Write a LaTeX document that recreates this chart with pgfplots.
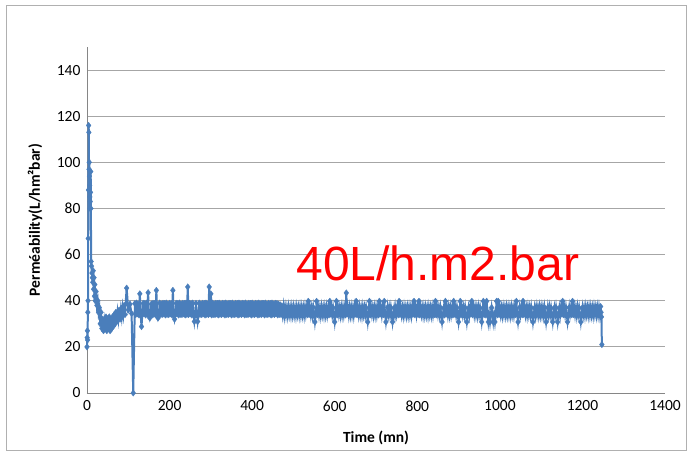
\documentclass[border=0pt]{standalone}
\usepackage{fontspec}
\setmainfont{Carlito}
\newfontfamily\arialf{Liberation Sans}
\usepackage{pgfplots}
\pgfplotsset{compat=1.18}
\definecolor{serie}{HTML}{4A7EBB}
\definecolor{gridc}{HTML}{A6A6A6}
\definecolor{axisc}{HTML}{868686}
\definecolor{framec}{HTML}{B0B0B0}
\begin{document}
\begin{tikzpicture}
\begin{axis}[
  width=578pt, height=346pt, scale only axis,
  xmin=0, xmax=1400, ymin=0, ymax=150,
  xtick={0,200,...,1400}, ytick={0,20,...,140},
  axis x line*=bottom, axis y line*=left,
  axis line style={axisc, line width=0.8pt},
  ymajorgrids, grid style={gridc, line width=0.8pt},
  tick style={draw=none},
  /pgf/number format/assume math mode=true,
  /pgf/number format/1000 sep={},
  ticklabel style={font=\fontsize{15.5}{18}\selectfont},
  yticklabel style={xshift=-3pt},
  xticklabel style={yshift=-4pt},
  xlabel={Time (mn)},
  ylabel={Perméability(L/hm²bar)},
  every axis x label/.style={at={(axis description cs:0.5,-0.13)}, anchor=center, font=\fontsize{15.5}{18}\selectfont\bfseries},
  every axis y label/.style={at={(axis description cs:-0.09,0.5)}, rotate=90, anchor=center, font=\fontsize{15.5}{18}\selectfont\bfseries},
  clip=false,
]
\path (rel axis cs:-0.1505,-0.1763) rectangle (rel axis cs:1.038,1.1358);
\draw[framec, line width=0.9pt] (rel axis cs:-0.1393,-0.1662) rectangle (rel axis cs:1.0363,1.1214);
\addplot[serie, line width=2pt, mark=diamond*, mark size=3.2pt, mark options={fill=serie, draw=serie, line width=0.3pt}] coordinates {
(0,20) (0.5,24) (1,27) (1.5,23) (2,35) (2.5,40) (3,67) (3.5,88) (4,116) (4.5,113)
(5,97) (5.5,100) (6,94) (6.5,90) (7,85) (7.5,80) (8,83) (8.5,87) (9,96) (9.5,80)
(10,57) (11,55) (12,52) (13,50) (14,48) (15,53) (16,45) (17,50) (18,42) (19,47)
(20,40) (22,44) (24,38) (26,40) (28,35) (30,37) (32,30) (34,35) (36,28) (38,32)
(40,27) (42,31) (44,28) (46,33) (48,27) (50,32) (52,28) (54,33) (56,27) (58,32)
(60,28) (62,33) (64,29) (66,34) (68,30) (70,35) (72,31) (74,35) (76,32) (78,36)
(80,32) (82,36) (84,33) (86,37) (88,34) (90,38) (92,34) (96,45.5) (100,36) (104,38.5)
(108,34.5) (112,0)
(116,38.8) (118,34) (120,39) (122,34.3) (124,38.6) (126,33.8) (128,43) (130,34.1) (132,28.8) (134,34)
(136,38.9) (138,34.3) (140,38.8) (142,33.8) (144,39) (146,34.1) (148,43.5) (150,34) (152,32.5) (154,34.3)
(156,38.6) (158,33.8) (160,38.9) (162,34.1) (164,38.8) (166,34) (168,44.5) (170,34.3) (172,32.5) (174,33.8)
(176,39) (178,34.1) (180,38.6) (182,34) (184,38.9) (186,34.3) (188,38.8) (190,33.8) (192,39) (194,34.1)
(196,38.6) (198,34) (200,38.9) (202,34.3) (204,38.8) (206,33.8) (208,44.5) (210,34.1) (212,32) (214,34)
(216,38.9) (218,34.3) (220,38.8) (222,33.8) (224,39) (226,34.1) (228,38.6) (230,34) (232,38.9) (234,34.3)
(236,38.8) (238,33.8) (240,39) (242,34.1) (244,46) (246,34) (248,38.9) (250,34.3) (252,38.8) (254,33.8)
(256,39) (258,34.1) (260,31) (262,34) (264,38.9) (266,34.3) (268,31) (270,33.8) (272,39) (274,34.1)
(276,38.6) (278,34) (280,38.9) (282,34.3) (284,38.8) (286,33.8) (288,39) (290,34.1) (292,38.6) (294,34)
(296,46) (298,34.3) (300,43) (302,33.8) (304,39) (306,34.1) (308,38.6) (310,34) (312,38.9) (314,34.3)
(316,38.8) (318,33.8) (320,39) (322,34.1) (324,38.6) (326,34) (328,38.9) (330,34.3) (332,38.8) (334,33.8)
(336,39) (338,34.1) (340,38.6) (342,34) (344,38.9) (346,34.3) (348,38.8) (350,33.8) (352,39) (354,34.1)
(356,38.6) (358,34) (360,38.9) (362,34.3) (364,38.8) (366,33.8) (368,39) (370,34.1) (372,38.6) (374,34)
(376,38.9) (378,34.3) (380,38.8) (382,33.8) (384,39) (386,34.1) (388,38.6) (390,34) (392,38.9) (394,34.3)
(396,38.8) (398,33.8) (400,39) (402,34.1) (404,38.6) (406,34) (408,38.9) (410,34.3) (412,38.8) (414,33.8)
(416,39) (418,34.1) (420,38.6) (422,34) (424,38.9) (426,34.3) (428,38.8) (430,33.8) (432,39) (434,34.1)
(436,38.6) (438,34) (440,38.9) (442,34.3) (444,38.8) (446,33.8) (448,39) (450,34.1) (452,38.6) (454,34)
(456,38.9) (458,34.3) (460,38.8) (462,33.8) (464,38.5) (466,34.1) (468,38.2) (470,34) (472,37.8) (474,34.3)
(476,37.5) (478,33.8)
(480,37) (482,34) (484,36.8) (486,33.8) (488,37.1) (490,34.2) (492,36.9) (494,33.9) (496,37) (498,34)
(500,37) (502,34) (504,36.8) (506,33.8) (508,37.1) (510,34.2) (512,36.9) (514,33.9) (516,37) (518,34)
(520,37) (522,34) (524,36.8) (526,33.8) (528,37.1) (530,34.2) (532,36.9) (534,33.9) (536,39.8) (538,34)
(540,37) (542,34) (544,36.8) (546,33.8) (548,37.1) (550,34.2) (552,30.8) (554,33.9) (556,39.8) (558,34)
(560,37) (562,34) (564,36.8) (566,33.8) (568,37.1) (570,34.2) (572,36.9) (574,33.9) (576,37) (578,34)
(580,37) (582,34) (584,36.8) (586,33.8) (588,39.8) (590,34.2) (592,36.9) (594,33.9) (596,37) (598,34)
(600,30.8) (602,34) (604,39.8) (606,33.8) (608,37.1) (610,34.2) (612,36.9) (614,33.9) (616,37) (618,34)
(620,37) (622,34) (624,36.8) (626,33.8) (628,43.4) (630,34.2) (632,36.9) (634,33.9) (636,37) (638,34)
(640,37) (642,34) (644,36.8) (646,33.8) (648,37.1) (650,34.2) (652,39.8) (654,33.9) (656,37) (658,34)
(660,37) (662,34) (664,36.8) (666,33.8) (668,37.1) (670,34.2) (672,36.9) (674,33.9) (676,37) (678,34)
(680,30.8) (682,34) (684,39.8) (686,33.8) (688,37.1) (690,34.2) (692,36.9) (694,33.9) (696,37) (698,34)
(700,37) (702,34) (704,36.8) (706,33.8) (708,39.8) (710,34.2) (712,36.9) (714,33.9) (716,37) (718,34)
(720,39.8) (722,34) (724,30.8) (726,33.8) (728,37.1) (730,34.2) (732,36.9) (734,33.9) (736,37) (738,34)
(740,30.8) (742,34) (744,36.8) (746,33.8) (748,37.1) (750,34.2) (752,36.9) (754,33.9) (756,39.8) (758,34)
(760,37) (762,34) (764,36.8) (766,33.8) (768,37.1) (770,34.2) (772,36.9) (774,33.9) (776,37) (778,34)
(780,37) (782,34) (784,36.8) (786,33.8) (788,37.1) (790,34.2) (792,39.8) (794,33.9) (796,37) (798,34)
(800,37) (802,34) (804,39.8) (806,33.8) (808,37.1) (810,34.2) (812,36.9) (814,33.9) (816,37) (818,34)
(820,37) (822,34) (824,36.8) (826,33.8) (828,37.1) (830,34.2) (832,36.9) (834,33.9) (836,37) (838,34)
(840,37) (842,34) (844,39.8) (846,33.8) (848,37.1) (850,34.2) (852,36.9) (854,33.9) (856,37) (858,34)
(860,30.8) (862,34) (864,36.8) (866,33.8) (868,39.8) (870,34.2) (872,36.9) (874,33.9) (876,37) (878,34)
(880,37) (882,34) (884,36.8) (886,33.8) (888,39.8) (890,34.2) (892,36.9) (894,33.9) (896,37) (898,34)
(900,30.8) (902,34) (904,39.8) (906,33.8) (908,37.1) (910,34.2) (912,36.9) (914,33.9) (916,37) (918,34)
(920,30.8) (922,34) (924,36.8) (926,33.8) (928,37.1) (930,34.2) (932,39.8) (934,33.9) (936,37) (938,34)
(940,37) (942,34) (944,36.8) (946,33.8) (948,37.1) (950,34.2) (952,36.9) (954,33.9) (956,30.8) (958,34)
(960,39.8) (962,34) (964,36.8) (966,33.8) (968,39.8) (970,34.2) (972,30.8) (974,33.9) (976,30.8) (978,34)
(980,37) (982,34) (984,30.8) (986,33.8) (988,30.8) (990,34.2) (992,39.8) (994,33.9) (996,39.8) (998,34)
(1000,37) (1002,34) (1004,36.8) (1006,33.8) (1008,37.1) (1010,34.2) (1012,36.9) (1014,33.9) (1016,37) (1018,34)
(1020,37) (1022,34) (1024,36.8) (1026,33.8) (1028,37.1) (1030,34.2) (1032,36.9) (1034,33.9) (1036,37) (1038,34)
(1040,39.8) (1042,34) (1044,30.8) (1046,33.8) (1048,37.1) (1050,34.2) (1052,36.9) (1054,33.9) (1056,39.8) (1058,34)
(1060,37) (1062,34) (1064,36.8) (1066,33.8) (1068,37.1) (1070,34.2) (1072,36.9) (1074,33.9) (1076,37) (1078,34)
(1080,30.8) (1082,34) (1084,36.8) (1086,33.8) (1088,37.1) (1090,34.2) (1092,36.9) (1094,33.9) (1096,37) (1098,34)
(1100,37) (1102,34) (1104,36.8) (1106,33.8) (1108,37.1) (1110,34.2) (1112,30.8) (1114,33.9) (1116,37) (1118,34)
(1120,37) (1122,34) (1124,36.8) (1126,33.8) (1128,30.8) (1130,34.2) (1132,36.9) (1134,33.9) (1136,37) (1138,34)
(1140,30.8) (1142,34) (1144,36.8) (1146,33.8) (1148,37.1) (1150,34.2) (1152,39.8) (1154,33.9) (1156,37) (1158,34)
(1160,37) (1162,34) (1164,30.8) (1166,33.8) (1168,37.1) (1170,34.2) (1172,36.9) (1174,33.9) (1176,39.8) (1178,34)
(1180,37) (1182,34) (1184,36.8) (1186,33.8) (1188,37.1) (1190,34.2) (1192,36.9) (1194,33.9) (1196,30.8) (1198,34)
(1200,37) (1202,34) (1204,36.8) (1206,33.8) (1208,37.1) (1210,34.2) (1212,36.9) (1214,33.9) (1216,37) (1218,34)
(1220,37) (1222,34) (1224,36.8) (1226,33.8) (1228,37.1) (1230,34.2) (1232,36.9) (1234,33.9) (1236,37) (1238,34)
(1240,37) (1242,34) (1244,37.5) (1245,35) (1246,33) (1247,21)
};
\node[text=red, font=\fontsize{48}{52}\selectfont\arialf] at (axis cs:850,56.3) {40L/h.m2.bar};
\end{axis}
\end{tikzpicture}
\end{document}
